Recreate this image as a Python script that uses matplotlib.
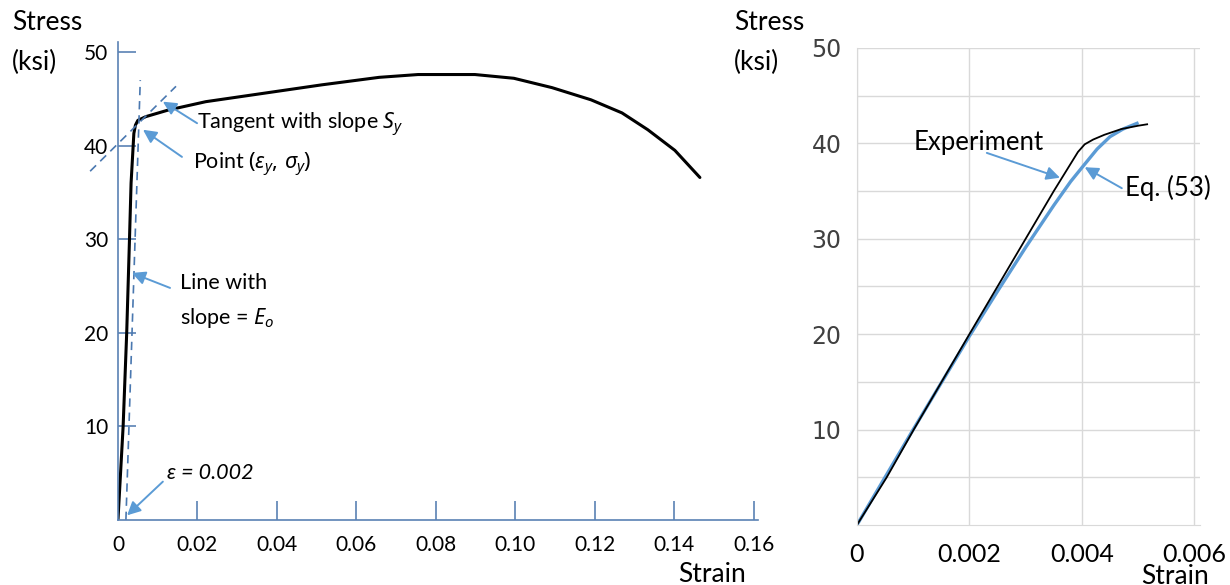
import numpy as np
import matplotlib
matplotlib.use('Agg')
import matplotlib.pyplot as plt
from matplotlib.ticker import FixedLocator

plt.rcParams['font.family'] = ['Lato', 'Noto Sans', 'DejaVu Sans']
plt.rcParams['mathtext.fontset'] = 'custom'
plt.rcParams['mathtext.rm'] = 'Noto Sans'
plt.rcParams['mathtext.it'] = 'Noto Sans:italic'

# left panel: full stress-strain curve (ksi vs strain)
strain_full = [0, 0.0013, 0.0022, 0.0029, 0.0033, 0.0040, 0.0044, 0.0050, 0.0070, 0.0126,
               0.0221, 0.0367, 0.0513, 0.0657, 0.0755, 0.0898, 0.0996, 0.1092, 0.119,
               0.1268, 0.1333, 0.1401, 0.1464]
stress_full = [0, 10, 20, 30, 36, 41.3, 42.2, 42.7, 43.1, 43.8,
               44.7, 45.6, 46.5, 47.3, 47.6, 47.6, 47.2, 46.2, 44.9,
               43.5, 41.7, 39.5, 36.6]

# construction lines
eps_offset = 0.002      # offset strain
E_o = 13000             # slope of offset line (ksi)
eps_y, sig_y = 0.0045, 42.1
S_y = 420               # tangent slope (ksi)
offset_stress = [0, 47]
tangent_strain = [-0.007, 0.0146]

left_xticks = [0, 0.02, 0.04, 0.06, 0.08, 0.10, 0.12, 0.14, 0.16]
left_xlabels = ['0', '0.02', '0.04', '0.06', '0.08', '0.10', '0.12', '0.14', '0.16']
left_yticks = [10, 20, 30, 40, 50]

# right panel: experiment vs Eq. (53)
strain_exp = [0, 0.00053, 0.00101, 0.002, 0.003, 0.0035, 0.00393, 0.00405, 0.0042,
              0.0044, 0.0047, 0.0050, 0.00516]
stress_exp = [0, 5, 10, 20, 30, 35, 39.1, 39.9, 40.4, 40.9, 41.5, 41.85, 42.0]
strain_eq = [0, 0.001, 0.002, 0.0025, 0.003, 0.0035, 0.0038, 0.00402, 0.00427, 0.0045,
             0.00473, 0.00498]
stress_eq = [0, 10, 19.8, 24.5, 29.1, 33.5, 36.0, 37.6, 39.4, 40.7, 41.5, 42.1]

right_xticks = [0, 0.002, 0.004, 0.006]
right_xlabels = ['0', '0.002', '0.004', '0.006']
right_yticks = [10, 20, 30, 40, 50]

steel = '#5a82b4'
arrow_c = '#5b9bd5'

fig = plt.figure(figsize=(12.3, 5.85), dpi=100)

# ---------- left ----------
ax = fig.add_axes([0.0959, 0.1111, 0.5203, 0.817])
ax.plot(strain_full, stress_full, color='black', lw=2.2, solid_capstyle='round',
        solid_joinstyle='round')

off_x = eps_offset + np.array(offset_stress) / E_o
ax.plot(off_x, offset_stress, color='#4a78b0', lw=1.2, ls=(0, (5, 3.5)), clip_on=False)
tan_x = np.array(tangent_strain)
ax.plot(tan_x, sig_y + S_y * (tan_x - eps_y), color='#4a78b0', lw=1.2,
        ls=(0, (5, 3.5)), clip_on=False)

ax.set_xlim(0, 0.161)
ax.set_ylim(0, 51.07)
for s in ['top', 'right']:
    ax.spines[s].set_visible(False)
for s in ['left', 'bottom']:
    ax.spines[s].set_color(steel)
    ax.spines[s].set_linewidth(1.2)
ax.set_xticks(left_xticks)
ax.set_xticklabels(left_xlabels)
ax.set_yticks(left_yticks)
ax.tick_params(axis='x', direction='in', length=14, width=1.2, color=steel,
               pad=11, labelsize=15)
ax.tick_params(axis='y', direction='in', length=13, width=1.2, color=steel,
               pad=7, labelsize=15)
ax.xaxis.get_major_ticks()[0].tick1line.set_visible(False)

arrow = dict(arrowstyle='-|>', color=arrow_c, lw=1.4, mutation_scale=20,
             shrinkA=0, shrinkB=0)
ax.annotate('', xy=(0.0113, 44.7), xytext=(0.0199, 42.4), arrowprops=arrow)
ax.text(0.0199, 42.2, r'Tangent with slope $S_y$', fontsize=15.5, ha='left', va='center')
ax.annotate('', xy=(0.0063, 41.7), xytext=(0.0161, 38.8), arrowprops=arrow)
ax.text(0.0189, 37.9, r'Point $(\varepsilon_y,\, \sigma_y)$', fontsize=15.5,
        ha='left', va='center')
ax.annotate('', xy=(0.0035, 26.4), xytext=(0.0131, 24.8), arrowprops=arrow)
ax.text(0.0156, 25.3, 'Line with', fontsize=15.5, ha='left', va='center')
ax.text(0.0156, 21.6, r'slope = $E_o$', fontsize=15.5, ha='left', va='center')
ax.annotate('', xy=(0.0023, 0.5), xytext=(0.0113, 4.1), arrowprops=arrow)
ax.text(0.0123, 5.0, 'ε = 0.002', fontsize=15.5, style='italic', ha='left', va='center')

fig.text(12 / 1230, 1 - 22 / 585, 'Stress', fontsize=19, ha='left', va='center')
fig.text(12 / 1230, 1 - 62 / 585, '(ksi)', fontsize=19, ha='left', va='center')
fig.text(712 / 1230, 1 - 574 / 585, 'Strain', fontsize=19, ha='center', va='center')

# ---------- right ----------
ax2 = fig.add_axes([0.6967, 0.1026, 0.2789, 0.8154])
ax2.plot(strain_eq, stress_eq, color=arrow_c, lw=2.4, solid_joinstyle='round')
ax2.plot(strain_exp, stress_exp, color='black', lw=1.3, solid_joinstyle='round')
ax2.set_xlim(0, 0.0061)
ax2.set_ylim(0, 50)
ax2.set_xticks(right_xticks)
ax2.set_xticklabels(right_xlabels)
ax2.set_yticks(right_yticks)
ax2.yaxis.set_minor_locator(FixedLocator([5, 15, 25, 35, 45]))
ax2.grid(True, which='both', color='#d9d9d9', lw=1)
ax2.set_axisbelow(True)
for s in ['top', 'right']:
    ax2.spines[s].set_visible(False)
for s in ['left', 'bottom']:
    ax2.spines[s].set_color('#d9d9d9')
ax2.tick_params(axis='both', which='both', length=0)
ax2.tick_params(axis='x', pad=13, labelsize=18)
ax2.tick_params(axis='y', pad=11)
for lab in ax2.get_yticklabels():
    lab.set_fontfamily('DejaVu Sans')
    lab.set_fontsize(17)
    lab.set_color('#404040')

ax2.annotate('', xy=(0.00361, 36.4), xytext=(0.00231, 39.0), arrowprops=arrow)
ax2.text(0.0010, 40.1, 'Experiment', fontsize=18.5, ha='left', va='center')
ax2.annotate('', xy=(0.00405, 37.5), xytext=(0.00471, 35.3), arrowprops=arrow)
ax2.text(0.00476, 35.3, 'Eq. (53)', fontsize=18.5, ha='left', va='center')

fig.text(734 / 1230, 1 - 22 / 585, 'Stress', fontsize=19, ha='left', va='center')
fig.text(734 / 1230, 1 - 62 / 585, '(ksi)', fontsize=19, ha='left', va='center')
fig.text(1175 / 1230, 1 - 576 / 585, 'Strain', fontsize=19, ha='center', va='center')

fig.savefig('out.png', dpi=100)
